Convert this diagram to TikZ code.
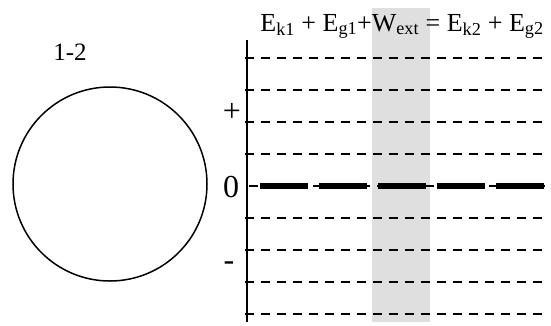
\documentclass[tikz,border=0pt]{standalone}
\usepackage{fontspec}
\setmainfont{Liberation Serif}
\begin{document}
\begin{tikzpicture}[x=1pt,y=-1pt]
\useasboundingbox (0,0) rectangle (551,325);
\fill[gray!25] (372,8) rectangle (430,322);
\draw[line width=1.5pt] (110,184) circle (97);
\node[font=\fontsize{25}{30}\selectfont] (tag) at (70,52) {1-2};
\draw[line width=2pt] (247,40) -- (247,322);
\foreach \y in {58,90,122,154,218,250,282,314}
  \draw[line width=2pt,dash pattern=on 9pt off 7pt] (245,\y) -- (545,\y);
\draw[line width=1.5pt,dash pattern=on 9pt off 7pt] (249,186) -- (545,186);
\draw[line width=6.5pt,dash pattern=on 48pt off 11pt] (260,186) -- (545,186);
\node[font=\fontsize{32}{36}\selectfont] (plus) at (232,112) {+};
\node[font=\fontsize{32}{36}\selectfont] (zero) at (231,187) {0};
\node[font=\fontsize{32}{36}\selectfont] (minus) at (229,266) {-};
\node[font=\fontsize{26}{30}\selectfont,anchor=base] (eq) at (402,31)
  {E\textsubscript{k1} + E\textsubscript{g1}+W\textsubscript{ext} = E\textsubscript{k2} + E\textsubscript{g2}};
\end{tikzpicture}
\end{document}
